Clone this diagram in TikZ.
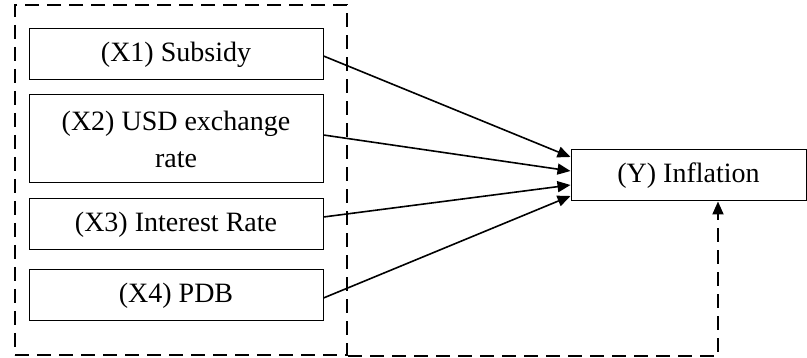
\documentclass[tikz,border=0pt]{standalone}
\usepackage{fontspec}
\setmainfont{Liberation Serif}
\usetikzlibrary{arrows.meta}
\begin{document}
\begin{tikzpicture}[x=1pt,y=1pt,
  varbox/.style={draw,line width=1pt,minimum width=294pt,minimum height=51pt,inner sep=0pt,align=center,
    font=\fontsize{28}{37}\selectfont},
  grpbox/.style={draw,line width=2pt,dash pattern=on 14pt off 8pt,minimum width=332pt,minimum height=350pt,inner sep=0pt},
  arr/.style={line width=1.6pt,-{Triangle[length=13pt,width=11pt]}},
  darr/.style={line width=2pt,dash pattern=on 14pt off 8pt,-{Triangle[length=13pt,width=11pt]}}]
\useasboundingbox (0,0) rectangle (807,358);
\node[grpbox] (grp) at (181,178) {};
\node[varbox] (x1) at (176,303.5) {(X1) Subsidy};
\node[varbox,minimum height=88pt] (x2) at (176,219) {(X2) USD exchange\\rate};
\node[varbox] (x3) at (176,133.5) {(X3) Interest Rate};
\node[varbox] (x4) at (176,62.5) {(X4) PDB};
\node[varbox,minimum width=235pt] (y) at (688.5,182.5) {(Y) Inflation};
\draw[arr] ([yshift=-1.5pt]x1.east) -- ([yshift=18.5pt]y.west);
\draw[arr] ([yshift=4pt]x2.east) -- ([yshift=4.5pt]y.west);
\draw[arr] ([yshift=7.5pt]x3.east) -- ([yshift=-9.5pt]y.west);
\draw[arr] ([yshift=-2.5pt]x4.east) -- ([yshift=-20.5pt]y.west);
\draw[darr] (grp.south east) -| ([xshift=29.5pt]y.south);
\end{tikzpicture}
\end{document}
